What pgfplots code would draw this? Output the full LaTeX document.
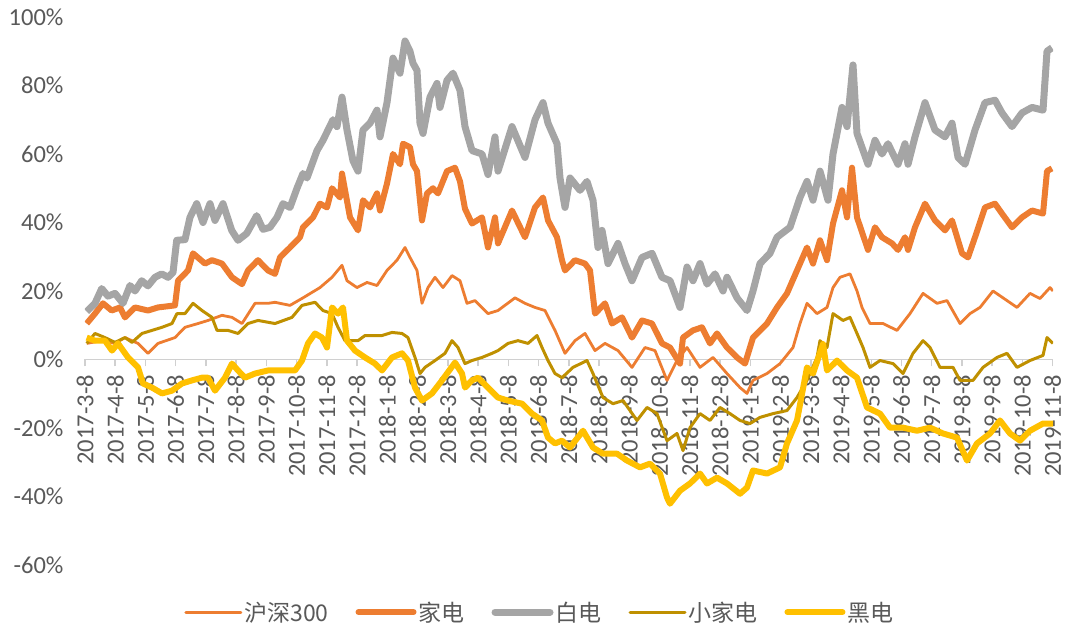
\documentclass[border=0pt]{standalone}
\usepackage{pgfplots}
\pgfplotsset{compat=1.18}
\usepackage{fontspec}
\setmainfont{Carlito}
\newfontfamily\cjk{Noto Sans CJK SC}
\definecolor{cHS}{HTML}{ED7D31}
\definecolor{cJD}{HTML}{ED7D31}
\definecolor{cBD}{HTML}{A5A5A5}
\definecolor{cXJD}{HTML}{BF9000}
\definecolor{cHD}{HTML}{FFC000}
\definecolor{txt}{HTML}{595959}
\definecolor{axl}{HTML}{D0D0D0}
\begin{document}
\begin{tikzpicture}
\useasboundingbox (-85bp,-65bp) rectangle (986bp,565bp);
\begin{axis}[
  at={(0,0)}, anchor=south west,
  scale only axis, width=968bp, height=548bp,
  xmin=85, xmax=1053, ymin=-60, ymax=100,
  axis x line*=middle, axis y line*=left,
  hide obscured x ticks=false,
  y axis line style={draw=none},
  x axis line style={draw=axl, line width=1.5bp},
  xtick={85,115.24,...,1053},
  xticklabels={2017-3-8,2017-4-8,2017-5-8,2017-6-8,2017-7-8,2017-8-8,2017-9-8,2017-10-8,2017-11-8,2017-12-8,2018-1-8,2018-2-8,2018-3-8,2018-4-8,2018-5-8,2018-6-8,2018-7-8,2018-8-8,2018-9-8,2018-10-8,2018-11-8,2018-12-8,2019-1-8,2019-2-8,2019-3-8,2019-4-8,2019-5-8,2019-6-8,2019-7-8,2019-8-8,2019-9-8,2019-10-8,2019-11-8},
  xtick style={draw=axl, line width=1.5bp},
  xtick align=outside, major tick length=7bp,
  xticklabel shift=5bp,
  ytick={-60,-40,...,100},
  yticklabels={-60\%,-40\%,-20\%,0\%,20\%,40\%,60\%,80\%,100\%},
  ytick style={draw=none},
  xticklabel style={rotate=90, anchor=east, font=\fontsize{24.5bp}{28bp}\selectfont, text=txt},
  yticklabel style={font=\fontsize{24.5bp}{28bp}\selectfont, text=txt, xshift=-18bp},
  legend style={at={(0.47,-0.086)}, anchor=center, legend columns=-1, draw=none, fill=none,
    font=\cjk\fontsize{23bp}{26bp}\selectfont, text=txt,
    /tikz/every even column/.append style={column sep=25bp}},
  legend image code/.code={\draw[#1, line cap=round] (0bp,0bp) -- (55bp,0bp);},
  every axis plot/.append style={line join=round},
]
\addplot[cHS, line width=2.8bp] coordinates {
(86.7,4.7)(101.7,5.5)(115,4.7)(125,6.4)(138,4.7)(148,1.8)(158,4.7)(175,6.4)(185,9.4)(198,10.5)
(208,11.4)(222,12.9)(232,12.3)(242,10.5)(255,16.4)(268,16.4)(275,16.7)(290,15.8)(303,18)(320,21)
(332,24)(342,27.5)(347,23)(357,21)(367,22.5)(377,21.6)(387,26)(397,29)(405,32.7)(410,29.8)
(417,26)(422,16.4)(428,21)(435,24)(443,21)(452,24.5)(460,23)(467,16.4)(475,17.2)(488,13.4)
(498,14.3)(515,18)(525,16.4)(535,15.2)(545,14.3)(555,8.5)(565,1.8)(575,5.5)(585,7.6)(595,2.6)
(605,4.7)(618,2.6)(632,-2.3)(645,3.5)(655,2.6)(667,-6.1)(677,-0.3)(687,3.5)(700,-2.3)(713,0.6)
(727,-4.1)(740,-8.2)(747,-9.9)(753,-6.1)(767,-4.1)(780,-1.2)(793,3.5)(800,10.5)(807,16.4)(817,13.4)
(827,15.2)(833,21)(840,24)(850,25)(857,20)(862,15.2)(870,10.5)(883,10.5)(897,8.5)(910,13.4)
(923,19.3)(937,16.4)(947,17.2)(960,10.5)(970,13.4)(980,15.2)(993,20)(1007,17.2)(1017,15.2)(1030,19.3)
(1040,17.8)(1050,21)(1053,20)};
\addlegendentry{沪深300}
\addplot[cJD, line width=6bp] coordinates {
(86.7,10.5)(95,13.4)(103,16.4)(111.7,14.3)(120,15.2)(125,12.3)(135,15.2)(148,14.3)(158,15.2)(175,15.8)
(178,23)(188,26)(193,31)(205,28)(212,29)(222,28)(232,24)(242,22)(248,26)(258,29)
(268,26)(275,25)(280,29.8)(290,32.7)(300,35.7)(303,38.6)(313,41.5)(320,45.5)(327,44.4)(332,50)
(340,47.3)(342,54.3)(350,41.5)(358,37.7)(363,46.5)(370,44.4)(377,48.5)(380,43.5)(387,51.4)(393,60)
(400,57)(403,63)(410,62)(413,57)(417,55)(422,40.6)(427,48.5)(433,50)(438,48.5)(447,55)
(455,56)(460,52)(465,44)(472,39.7)(482,41.5)(488,32.7)(495,41.5)(498,33.9)(512,43.5)(525,35.7)
(535,44.4)(543,47.3)(548,40.6)(557,35.7)(562,29)(565,26)(575,29)(585,28)(590,26)(595,13.4)
(605,16.4)(612,10.5)(622,12.3)(632,6.4)(642,11.4)(652,10.5)(662,4.7)(670,3.5)(680,-1.2)(683,6.4)
(693,8.5)(702,9.4)(710,4.7)(717,7.6)(727,3.5)(737,0.6)(745,-1.2)(753,6.4)(767,10.5)(777,15.2)
(787,19.3)(797,26)(807,32.7)(813,28)(820,34.8)(827,29)(833,39.7)(842,49.4)(847,41.5)(852,56)
(857,41.5)(868,32)(875,38.6)(882,35.7)(892,33.9)(898,32)(905,35.7)(908,32)(915,38.6)(925,45.5)
(935,40.6)(945,37.7)(952,40.6)(962,31)(968,29.8)(975,35.7)(985,44.4)(995,45.5)(1002,42.6)(1012,38.6)
(1022,41.5)(1032,43.5)(1043,42.6)(1047,55)(1052,55.8)};
\addlegendentry{家电}
\addplot[cBD, line width=7bp] coordinates {
(86.7,14)(95,16.4)(101.7,20.7)(108,18.5)(115,19.3)(123,16.4)(130,21.6)(135,20)(141.7,23)(148,21.5)
(155,24)(161.7,25)(168,24)(173,25.4)(176.7,34.8)(185,35)(190,41.5)(196.7,45.5)(203,40)(210,45.5)
(215,40.6)(223,45.5)(231.7,37.7)(238,34.8)(246.7,36.8)(256.7,42)(263,38)(270,38.6)(277,41.5)(283,45.5)
(290,44.4)(297,50)(303,54.3)(307,53)(317,61)(323,64)(328,67)(333,70)(337,68)(342,76.6)
(347,67)(353,58)(358,55)(363,67)(370,69)(377,72.8)(380,65)(387,75)(393,88)(400,83.6)
(405,93)(410,90)(413,86.5)(417,84.4)(420,69)(423,66)(430,76.6)(437,80.6)(440,73.6)(447,81.5)
(453,83.6)(460,78.6)(465,68)(472,61)(482,60)(488,54)(495,65)(498,55)(512,68)(525,59)
(535,70)(543,75)(548,69)(557,63)(560,53)(565,44.4)(570,53)(580,49.4)(587,52)(593,46.5)
(598,32.7)(602,37.7)(608,28)(618,33.9)(625,28)(632,23)(642,29.8)(652,31)(662,24)(670,23)
(680,15.2)(687,27)(693,23)(700,28)(707,22)(715,25)(723,20)(727,24)(737,18)(747,14.3)
(753,20)(760,28)(770,31)(777,35.7)(790,38.6)(800,47.3)(807,52)(813,46.5)(820,55)(828,46.5)
(833,60)(842,73.6)(847,68)(853,86)(857,66)(868,57)(875,64)(882,60)(888,63)(898,57)
(905,63)(908,57)(915,65)(925,75)(935,67)(945,65)(952,69)(958,59)(965,57)(975,67)
(985,75)(995,75.7)(1002,72)(1012,68)(1022,72)(1032,73.6)(1043,72.8)(1047,90)(1052,91)};
\addlegendentry{白电}
\addplot[cXJD, line width=3bp] coordinates {
(86.7,4.7)(95,7.6)(105,6.4)(115,5)(125,6.4)(132,5)(142,7.6)(152,8.5)(162,9.4)(172,10.5)
(177,13.4)(185,13.4)(193,16.4)(202,14.3)(212,12.3)(217,8.5)(228,8.5)(238,7.6)(248,10.5)(258,11.4)
(275,10.5)(292,12.3)(302,15.8)(315,16.7)(323,14.3)(332,13.4)(338,9.4)(345,5.5)(358,5.5)(365,7)
(382,7)(392,7.9)(402,7.6)(408,6.4)(415,0.6)(420,-4.1)(425,-2.3)(435,-0.3)(445,1.8)(452,5.5)
(458,3.5)(465,-1.2)(472,-0.3)(482,0.6)(492,1.8)(498,2.6)(508,4.7)(518,5.5)(528,4.7)(537,7)
(542,3.5)(548,-0.3)(555,-4.1)(562,-5.3)(573,-2.3)(587,-0.3)(593,-4.1)(603,-11.1)(613,-12.9)(623,-12)
(637,-17.8)(647,-14)(657,-15.8)(667,-23.7)(677,-21.6)(683,-26.6)(690,-19.9)(700,-15.8)(710,-17.8)(720,-14)
(730,-15.8)(740,-17.8)(750,-18.7)(760,-16.9)(773,-15.8)(787,-14.9)(797,-11.1)(807,-6.1)(817,0.6)(820,5.5)
(827,3.5)(833,13.4)(843,11.4)(850,12.3)(857,7.6)(863,3.5)(870,-2.3)(880,-0.3)(893,-1.2)(903,-4.1)
(913,1.8)(923,5.5)(930,3.5)(940,-2.3)(953,-2.3)(960,-6.1)(973,-6.1)(983,-2.3)(997,0.6)(1007,1.8)
(1017,-2.3)(1030,-0.3)(1043,1.2)(1047,6.4)(1053,4.7)};
\addlegendentry{小家电}
\addplot[cHD, line width=6bp] coordinates {
(86.7,6.4)(95,5.5)(105,5.5)(112,2.6)(118,4.7)(128,0.6)(138,-2.3)(143,-7)(152,-8.2)(162,-9.9)
(172,-9.1)(182,-7)(192,-6.1)(202,-5.3)(208,-5.3)(215,-9.1)(225,-5.3)(232,-1.2)(238,-3.2)(245,-5.3)
(255,-4.1)(268,-3.2)(282,-3.2)(295,-3.2)(302,-0.3)(308,4.7)(315,7.6)(322,6.4)(327,3.5)(332,15.2)
(338,13.4)(343,15.2)(347,5.5)(355,2.6)(365,0.6)(375,-1.2)(382,-3.2)(392,0.6)(402,1.8)(408,-0.3)
(415,-8.2)(422,-12)(432,-9.9)(442,-6.1)(455,-0.9)(462,-4.1)(465,-8.2)(472,-6.1)(478,-5.3)(488,-8.2)
(498,-11.1)(508,-12)(522,-12.9)(532,-15.8)(542,-17.8)(548,-22.8)(555,-24.5)(562,-23.7)(570,-25.7)(583,-20.8)
(593,-25.7)(603,-27.5)(617,-27.5)(627,-29.5)(640,-31.5)(650,-30.4)(660,-33.3)(667,-40.3)(670,-42.1)(680,-38.3)
(690,-36.2)(700,-33.3)(707,-36.2)(717,-34.5)(727,-36.2)(740,-39.2)(747,-37.4)(753,-32.4)(767,-33.3)(780,-31.5)
(787,-24.5)(797,-17.8)(807,-2.3)(813,-4.1)(823,4.5)(827,-3.2)(837,-0.3)(847,-3.2)(857,-5.3)(867,-14)
(880,-15.8)(890,-19.9)(903,-19.9)(917,-20.8)(930,-19.9)(943,-21.6)(957,-22.8)(967,-29.5)(977,-24.5)(990,-21.6)
(1000,-17.8)(1010,-21.6)(1020,-23.7)(1030,-20.8)(1043,-18.7)(1053,-18.7)};
\addlegendentry{黑电}
\end{axis}
\end{tikzpicture}
\end{document}
